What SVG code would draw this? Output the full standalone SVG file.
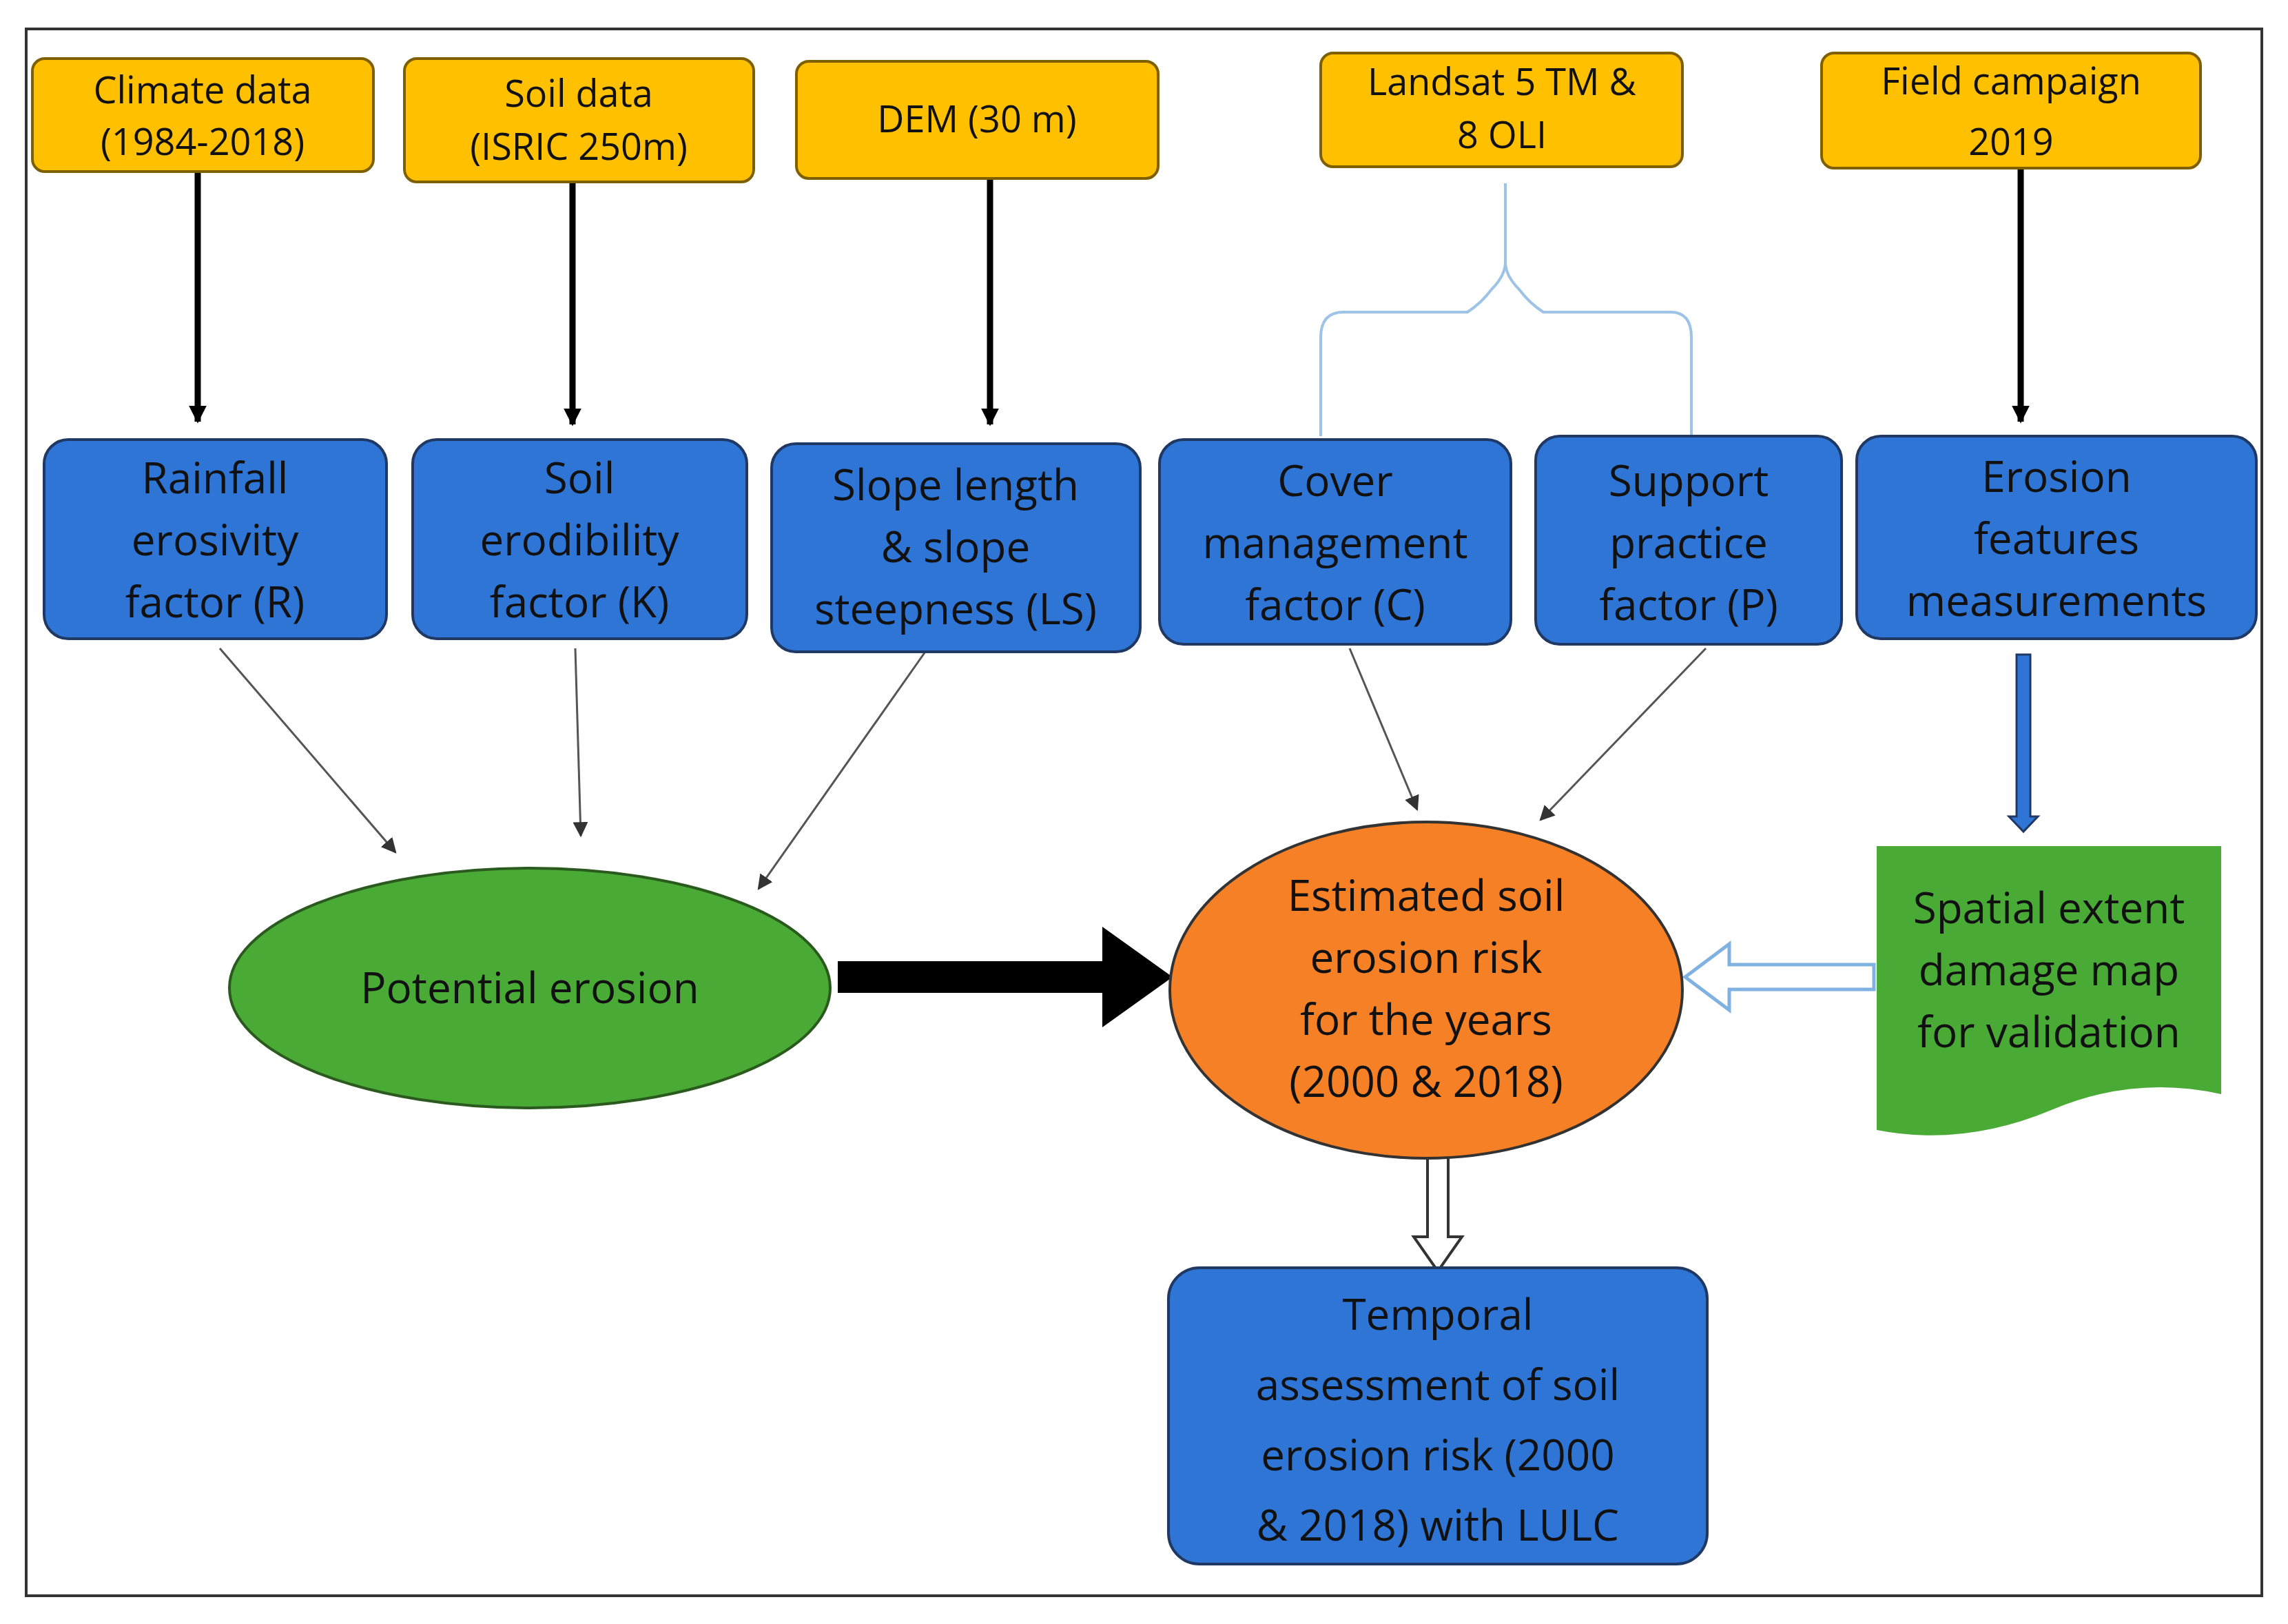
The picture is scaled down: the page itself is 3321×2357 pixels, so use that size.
<svg xmlns="http://www.w3.org/2000/svg" width="3321" height="2357" viewBox="0 0 3321 2357">
<style>
.y{fill:#ffc000;stroke:#7f6000;stroke-width:4}
.b{fill:#2e75d6;stroke:#1f3864;stroke-width:4}
text{font-family:"Open Sans","Liberation Sans",sans-serif;fill:#111;text-anchor:middle}
.ty{font-size:54px}
.tb{font-size:62px}
.thin{stroke:#555;stroke-width:3;fill:none}
.blk{stroke:#000;stroke-width:9;fill:none}
</style>
<defs>
<marker id="ah" markerWidth="22" markerHeight="22" refX="9" refY="5" orient="auto" markerUnits="userSpaceOnUse" viewBox="0 0 10 10"><path d="M0,0L10,5L0,10z" fill="#333"/></marker>
<marker id="bh" viewBox="0 0 10 10" refX="9" refY="5" markerWidth="26" markerHeight="26" orient="auto" markerUnits="userSpaceOnUse"><path d="M0,0L10,5L0,10z" fill="#000"/></marker>
</defs>
<rect width="3321" height="2357" fill="#fff"/>
<rect x="38" y="42" width="3245" height="2274" fill="none" stroke="#333" stroke-width="4"/>
<g id="connectors">
<line class="blk" x1="287" y1="249" x2="287" y2="612" marker-end="url(#bh)"/>
<line class="blk" x1="831" y1="264" x2="831" y2="616" marker-end="url(#bh)"/>
<line class="blk" x1="1437" y1="259" x2="1437" y2="616" marker-end="url(#bh)"/>
<line class="blk" x1="2933" y1="244" x2="2933" y2="612" marker-end="url(#bh)"/>
<path d="M2185,266 V380 Q2185,400 2165,420 Q2150,440 2130,453 H1950 Q1917,453 1917,490 V633 M2185,380 Q2185,400 2205,420 Q2220,440 2240,453 H2425 Q2455,453 2455,490 V633" fill="none" stroke="#9dc3e6" stroke-width="4"/>
<line class="thin" x1="319" y1="941" x2="574" y2="1237" marker-end="url(#ah)"/>
<line class="thin" x1="835" y1="941" x2="843" y2="1213" marker-end="url(#ah)"/>
<line class="thin" x1="1343" y1="946" x2="1101" y2="1290" marker-end="url(#ah)"/>
<line class="thin" x1="1959" y1="941" x2="2057" y2="1175" marker-end="url(#ah)"/>
<line class="thin" x1="2476" y1="941" x2="2236" y2="1190" marker-end="url(#ah)"/>
<path d="M1216,1395 H1600 V1345 L1702,1418 L1600,1491 V1441 H1216z" fill="#000"/>
<path d="M2927,950 H2947 V1185 H2958 L2937,1207 L2916,1185 H2927z" fill="#2e75d6" stroke="#1f3864" stroke-width="3"/>
<path d="M2720,1400 H2510 V1370 L2446,1418 L2510,1466 V1436 H2720z" fill="#fff" stroke="#7fb2e0" stroke-width="5"/>
<path d="M2072,1679 H2102 V1795 H2122 L2087,1845 L2052,1795 H2072z" fill="#fff" stroke="#333" stroke-width="4"/>
</g>
<g id="climate"><rect class="y" x="47" y="85" width="495" height="164" rx="18"/><text class="ty" x="294" y="150">Climate data</text><text class="ty" x="294" y="225">(1984-2018)</text></g>
<g id="soil"><rect class="y" x="587" y="85" width="507" height="179" rx="18"/><text class="ty" x="840" y="155">Soil data</text><text class="ty" x="840" y="232">(ISRIC 250m)</text></g>
<g id="dem"><rect class="y" x="1156" y="89" width="525" height="170" rx="18"/><text class="ty" x="1418" y="192">DEM (30 m)</text></g>
<g id="landsat"><rect class="y" x="1917" y="77" width="525" height="165" rx="18"/><text class="ty" x="2180" y="138">Landsat 5 TM &amp;</text><text class="ty" x="2180" y="215">8 OLI</text></g>
<g id="field"><rect class="y" x="2644" y="77" width="550" height="167" rx="18"/><text class="ty" x="2919" y="137" font-size="64">Field campaign</text><text class="ty" x="2919" y="225" font-size="64">2019</text></g>
<g id="R"><rect class="b" x="64" y="638" width="497" height="289" rx="35"/><text class="tb" x="312" y="716">Rainfall</text><text class="tb" x="312" y="806">erosivity</text><text class="tb" x="312" y="896">factor (R)</text></g>
<g id="K"><rect class="b" x="599" y="638" width="485" height="289" rx="35"/><text class="tb" x="841" y="716">Soil</text><text class="tb" x="841" y="806">erodibility</text><text class="tb" x="841" y="896">factor (K)</text></g>
<g id="LS"><rect class="b" x="1120" y="644" width="535" height="302" rx="35"/><text class="tb" x="1387" y="726">Slope length</text><text class="tb" x="1387" y="816">&amp; slope</text><text class="tb" x="1387" y="906">steepness (LS)</text></g>
<g id="C"><rect class="b" x="1683" y="638" width="510" height="297" rx="35"/><text class="tb" x="1938" y="720">Cover</text><text class="tb" x="1938" y="810">management</text><text class="tb" x="1938" y="900">factor (C)</text></g>
<g id="P"><rect class="b" x="2229" y="633" width="444" height="302" rx="35"/><text class="tb" x="2451" y="720">Support</text><text class="tb" x="2451" y="810">practice</text><text class="tb" x="2451" y="900">factor (P)</text></g>
<g id="EF"><rect class="b" x="2695" y="633" width="580" height="294" rx="35"/><text class="tb" x="2985" y="714">Erosion</text><text class="tb" x="2985" y="804">features</text><text class="tb" x="2985" y="894">measurements</text></g>
<g id="PE"><ellipse cx="769" cy="1434" rx="436" ry="174" fill="#4aaa36" stroke="#2b5a1f" stroke-width="4"/><text class="tb" x="769" y="1456">Potential erosion</text></g>
<g id="ESE"><ellipse cx="2070" cy="1437" rx="372" ry="244" fill="#f58025" stroke="#333" stroke-width="4"/><text class="tb" x="2070" y="1322">Estimated soil</text><text class="tb" x="2070" y="1412">erosion risk</text><text class="tb" x="2070" y="1502">for the years</text><text class="tb" x="2070" y="1592">(2000 &amp; 2018)</text></g>
<g id="SED"><path d="M2724,1228 H3224 V1588 Q3100,1560 2980,1610 Q2850,1665 2724,1640z" fill="#4aaa36"/><text class="tb" x="2974" y="1340">Spatial extent</text><text class="tb" x="2974" y="1430">damage map</text><text class="tb" x="2974" y="1520">for validation</text></g>
<g id="TA"><rect class="b" x="1696" y="1840" width="782" height="430" rx="45"/><text class="tb" x="2087" y="1930" font-size="72">Temporal</text><text class="tb" x="2087" y="2032" font-size="72">assessment of soil</text><text class="tb" x="2087" y="2134" font-size="72">erosion risk (2000</text><text class="tb" x="2087" y="2236" font-size="72">&amp; 2018) with LULC</text></g>
</svg>
